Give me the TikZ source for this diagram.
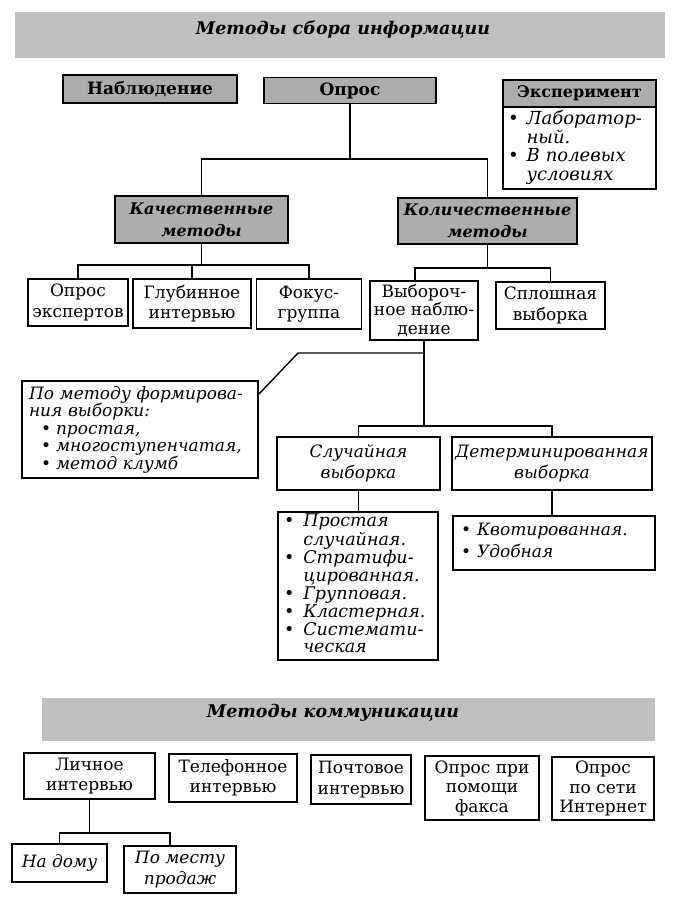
\documentclass[tikz,border=0pt]{standalone}
\usepackage{fontspec}
\setmainfont{DejaVu Serif}
\begin{document}
\begin{tikzpicture}[x=1pt,y=-1pt,
  bx/.style={draw, line width=1.5pt, inner sep=2pt, align=center,
    font=\fontsize{17}{20.5}\selectfont},
  hd/.style={bx, fill=black!32, font=\fontsize{16}{22}\selectfont\bfseries\itshape},
  hb/.style={bx, fill=black!32, font=\fontsize{17}{19}\selectfont\bfseries},
  it/.style={bx, font=\fontsize{17}{21}\selectfont\itshape},
  lst/.style={bx, align=left, font=\fontsize{17}{18}\selectfont\itshape},
  ln/.style={line width=1.4pt},
  band/.style={fill=black!25, draw=none},
  ttl/.style={inner sep=1pt, font=\fontsize{17.5}{22}\selectfont\bfseries\itshape}]
\useasboundingbox (0,0) rectangle (673,897);
% title bands
\path[band] (15,12) rectangle (665,58);
\node[ttl] (t1) at (343,30) {Методы сбора информации};
\path[band] (42,698) rectangle (655,741);
\node[ttl] (t2) at (333,713) {Методы коммуникации};
% top row
\node[hb, minimum width=174pt, minimum height=28pt] (nabl) at (150,89) {Наблюдение};
\node[hb, minimum width=172pt, minimum height=26pt] (opros) at (350,90.5) {Опрос};
\node[hb, minimum width=153pt, minimum height=27pt, font=\fontsize{16}{19}\selectfont\bfseries] (exph) at (579.5,93.5) {Эксперимент};
\node[lst, text width=143pt, inner xsep=5pt, minimum height=82pt,
  font=\fontsize{18}{18.5}\selectfont\itshape] (expb) at (579.5,148)
  {\begin{tabular}{@{}l@{\hspace{8pt}}l@{}}•&Лаборатор-\\&ный.\\•&В полевых\\&условиях\end{tabular}};
% second level
\node[hd, minimum width=173pt, minimum height=47pt] (kach) at (201.5,219.5) {Качественные\\методы};
\node[hd, minimum width=179pt, minimum height=46pt] (kol) at (487.5,221) {Количественные\\методы};
\coordinate (j1) at (0,159);
\draw[ln] (opros.south) -- (opros.south |- j1);
\draw[ln] (kach.north) |- (kol.north |- j1) -- (kol.north);
% third level
\node[bx, minimum width=100pt, minimum height=47pt] (oe) at (78,302.5) {Опрос\\экспертов};
\node[bx, minimum width=118pt, minimum height=49pt] (gl) at (192,303.5) {Глубинное\\интервью};
\node[bx, minimum width=105pt, minimum height=50pt] (fo) at (309,304) {Фокус-\\группа};
\coordinate (j2) at (0,265);
\draw[ln] (kach.south) -- (kach.south |- j2);
\draw[ln] (oe.north) |- (fo.north |- j2) -- (fo.north);
\draw[ln] (gl.north) -- (gl.north |- j2);
\node[bx, minimum width=108pt, minimum height=59pt, font=\fontsize{17}{18.5}\selectfont] (vyb) at (424,310.5) {Выбороч-\\ное наблю-\\дение};
\node[bx, minimum width=109pt, minimum height=47pt] (spl) at (550.5,305.5) {Сплошная\\выборка};
\coordinate (j3) at (0,268);
\coordinate (vk) at ([xshift=-9pt]vyb.north);
\draw[ln] (kol.south) -- (kol.south |- j3);
\draw[ln] (vk) |- (spl.north |- j3) -- (spl.north);
% sampling method box
\node[lst, text width=222pt, inner xsep=7pt, minimum height=97pt,
  font=\fontsize{17}{17.5}\selectfont\itshape] (pm) at (140,429.5)
  {По методу формирова-\\ния выборки:\\\hspace*{12pt}•\hspace{5pt}простая,\\\hspace*{12pt}•\hspace{5pt}многоступенчатая,\\\hspace*{12pt}•\hspace{5pt}метод клумб};
\coordinate (j4) at (0,353);
\coordinate (k1) at (298,353);
\coordinate (pe) at ([yshift=-14pt]pm.north east);
\draw[ln] (vyb.south |- j4) -- (k1) -- (pe);
% random / determined
\node[it, minimum width=163pt, minimum height=53pt] (sl) at (358.5,463.5) {Случайная\\выборка};
\node[it, minimum width=200pt, minimum height=53pt] (det) at (552,463.5) {Детерминированная\\выборка};
\coordinate (j5) at (0,426);
\draw[ln] (vyb.south) -- (vyb.south |- j5);
\draw[ln] (sl.north) |- (det.north |- j5) -- (det.north);
\node[lst, text width=148pt, inner xsep=6pt, minimum height=146pt,
  font=\fontsize{17.5}{17.5}\selectfont\itshape] (sll) at (358,586)
  {\begin{tabular}{@{}l@{\hspace{9pt}}l@{}}•&Простая\\&случайная.\\•&Стратифи-\\&цированная.\\•&Групповая.\\•&Кластерная.\\•&Системати-\\&ческая\end{tabular}};
\node[lst, text width=186pt, inner xsep=8pt, minimum height=54pt] (detl) at (554,543)
  {\begin{tabular}{@{}l@{\hspace{6pt}}l@{}}•&Квотированная.\\[4pt]•&Удобная\end{tabular}};
\draw[ln] (sl.south) -- (sl.south |- sll.north);
\draw[ln] (det.south) -- (det.south |- detl.north);
% communication methods
\node[bx, minimum width=131pt, minimum height=46pt] (li) at (89.5,776) {Личное\\интервью};
\node[bx, minimum width=128pt, minimum height=48pt] (tel) at (233,778) {Телефонное\\интервью};
\node[bx, minimum width=100pt, minimum height=49pt] (po) at (361,779.5) {Почтовое\\интервью};
\node[bx, minimum width=114pt, minimum height=64pt, font=\fontsize{17}{19.5}\selectfont] (fax) at (482,788) {Опрос при\\помощи\\факса};
\node[bx, minimum width=102pt, minimum height=63pt, font=\fontsize{17}{19.5}\selectfont] (inet) at (603,788.5) {Опрос\\по сети\\Интернет};
\node[it, minimum width=95pt, minimum height=38pt] (nd) at (59.5,863) {На дому};
\node[it, minimum width=112pt, minimum height=47pt] (pmp) at (180,869.5) {По месту\\продаж};
\coordinate (j6) at (0,833);
\coordinate (pk) at ([xshift=-10pt]pmp.north);
\draw[ln] (li.south) -- (li.south |- j6);
\draw[ln] (nd.north) |- (pk |- j6) -- (pk);
\end{tikzpicture}
\end{document}
